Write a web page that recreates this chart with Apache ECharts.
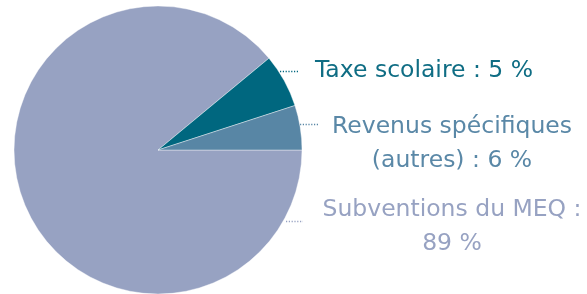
<!DOCTYPE html>
<html>
<head>
<meta charset="utf-8">
<script src="https://cdn.jsdelivr.net/npm/echarts@6/dist/echarts.min.js"></script>
<style>
  html, body { margin: 0; padding: 0; background: #fff; }
  #chart { width: 587px; height: 294px; }
</style>
</head>
<body>
<div id="chart"></div>
<script>
    // slice order: clockwise from 3 o'clock
    const categories = ['Subventions du MEQ', 'Taxe scolaire', 'Revenus spécifiques (autres)'];
    // slice sizes as drawn (teal wedge is drawn a bit wider than the steel one)
    const shares = [89, 6, 5];
    // label texts as printed
    const labelLines = [
        ['Subventions du MEQ :', '89 %'],
        ['Taxe scolaire : 5 %'],
        ['Revenus spécifiques', '(autres) : 6 %'],
    ];
    const sliceColors = ['#97a2c2', '#00677f', '#5886a5'];
    const textColors = ['#97a2c2', '#0f6d84', '#5a88a7'];

    // label block centres and leader line ends (px)
    const labelBoxes = [
        { x: 452, y: 227, line: [286, 303, 221.5] },
        { x: 424, y: 70.5, line: [280, 298, 71.5] },
        { x: 452, y: 143.5, line: [300, 318, 124.5] },
    ];

    const chart = echarts.init(document.getElementById('chart'));

    const seriesData = categories.map((name, i) => ({
        name,
        value: shares[i],
        itemStyle: { color: sliceColors[i] },
        label: { color: textColors[i] },
        labelLine: { lineStyle: { color: sliceColors[i] } },
    }));

    chart.setOption({
        animation: false,
        series: [{
            type: 'pie',
            center: [158, 150],
            radius: 144,
            startAngle: 0,
            clockwise: true,
            avoidLabelOverlap: false,
            data: seriesData,
            itemStyle: { borderColor: '#ffffff', borderWidth: 0.4 },
            label: {
                show: true,
                position: 'outside',
                fontFamily: 'DejaVu Sans',
                fontSize: 23.5,
                lineHeight: 34,
                align: 'center',
                formatter: (p) => labelLines[p.dataIndex].join('\n'),
            },
            labelLine: {
                show: true,
                length: 0,
                length2: 18,
                lineStyle: { width: 1.6, type: [1.2, 1.6] },
            },
            labelLayout: (p) => {
                const b = labelBoxes[p.dataIndex];
                const [x0, x1, y] = b.line;
                return {
                    x: b.x,
                    y: b.y,
                    align: 'center',
                    verticalAlign: 'middle',
                    labelLinePoints: [[x0, y], [(x0 + x1) / 2, y], [x1, y]],
                };
            },
        }],
    });
</script>
</body>
</html>
